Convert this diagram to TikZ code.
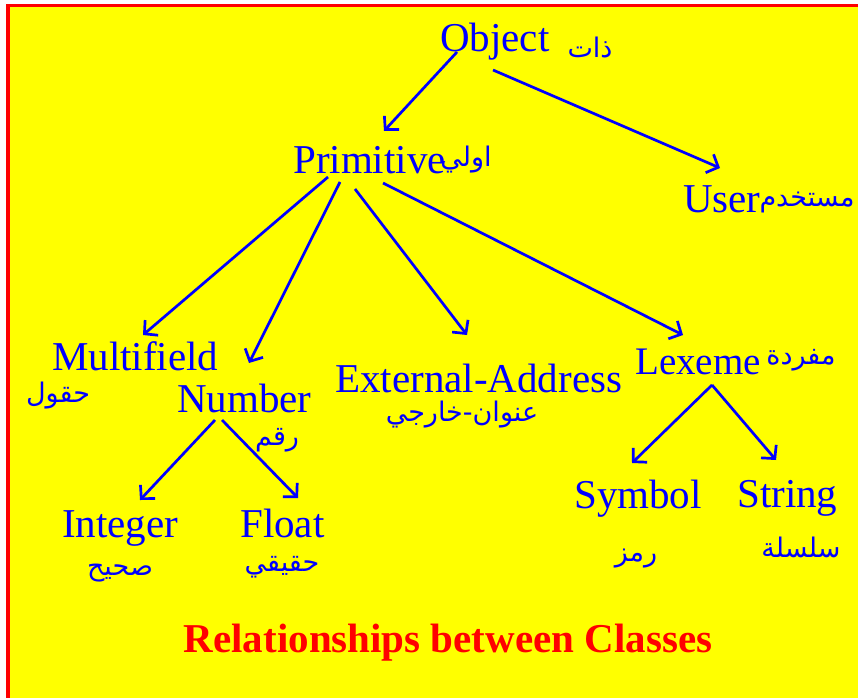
\documentclass[tikz,border=0pt]{standalone}
\usepackage{fontspec}
\setmainfont{Liberation Serif}
\newfontfamily\arabicfont[Script=Arabic]{DejaVu Sans}
\TeXXeTstate=1
\usetikzlibrary{arrows.meta,calc}
\definecolor{bgyellow}{RGB}{255,255,0}
\definecolor{txtblue}{RGB}{0,0,255}
\definecolor{brdred}{RGB}{255,0,0}
\begin{document}
\begin{tikzpicture}[x=1pt,y=-1pt,
  cls/.style={anchor=base west,inner sep=0pt,text=txtblue,font=\fontsize{41}{41}\selectfont},
  ar/.style={inner sep=0pt,text=txtblue,font=\arabicfont\fontsize{27}{27}\selectfont},
  arr/.style={draw=txtblue,line width=2.7pt,-{Straight Barb[length=9.5pt,width=20pt,line width=2.7pt]}},
  ttl/.style={inner sep=0pt,text=brdred,font=\bfseries\fontsize{41}{41}\selectfont}]
\useasboundingbox (0,0) rectangle (858,698);
\fill[white] (0,0) rectangle (858,698);
\fill[bgyellow] (6,4) rectangle (858,698);
\fill[brdred] (6,4) rectangle (858,7.5);
\fill[brdred] (6,4) rectangle (9.5,698);

% class nodes
\node[cls] (obj) at (440,52) {Object};
\node[cls] (prim) at (293,173) {Primitive};
\node[cls] (user) at (683,212) {User};
\node[cls] (multi) at (52,370) {Multifield};
\node[cls] (num) at (177,412) {Number};
\node[cls] (ext) at (335,392) {External-Address};
\node[cls,font=\fontsize{39}{39}\selectfont] (lex) at (635,374) {Lexeme};
\node[cls] (int) at (62,537) {Integer};
\node[cls] (flt) at (240,537) {Float};
\node[cls] (sym) at (574,508) {Symbol};
\node[cls] (str) at (737,507) {String};

% arabic labels
\node[ar] (aobj) at (590,47) {\beginR ذات\endR};
\node[ar] (aprim) at (466,160) {\beginR اولي\endR};
\node[ar] (auser) at (807,202) {\beginR مستخدم\endR};
\node[ar] (amulti) at (58,396) {\beginR حقول\endR};
\node[ar] (anum) at (277,440) {\beginR رقم\endR};
\node[ar] (aext) at (462,415) {\beginR عنوان-خارجي\endR};
\node[ar] (alex) at (801,360) {\beginR مفردة\endR};
\node[ar] (aint) at (120,573) {\beginR صحيح\endR};
\node[ar] (aflt) at (282,567) {\beginR حقيقي\endR};
\node[ar] (asym) at (636,559) {\beginR رمز\endR};
\node[ar] (astr) at (801,547) {\beginR سلسلة\endR};

% title
\node[ttl] (title) at (448,643) {Relationships between Classes};

% connectors
\draw[arr] ($(obj.base west)+(17,0)$) -- ($(prim.base west)+(91,-42)$);
\draw[arr] ($(obj.base west)+(53,18)$) -- ($(user.base west)+(37,-44)$);
\draw[arr] ($(prim.base west)+(35,4)$) -- ($(multi.base west)+(91,-35)$);
\draw[arr] ($(prim.base west)+(47,9)$) -- ($(num.base west)+(72,-49)$);
\draw[arr] ($(prim.base west)+(62,16)$) -- ($(ext.base west)+(132,-57)$);
\draw[arr] ($(prim.base west)+(90,10)$) -- ($(lex.base west)+(48,-39)$);
\draw[arr] ($(num.base west)+(38,8)$) -- ($(int.base west)+(78,-37)$);
\draw[arr] ($(num.base west)+(45,8)$) -- ($(flt.base west)+(58,-39)$);
\draw[arr] ($(lex.base west)+(77,11)$) -- ($(sym.base west)+(58,-45)$);
\draw[arr] ($(lex.base west)+(77,11)$) -- ($(str.base west)+(39,-47)$);
\end{tikzpicture}
\end{document}
